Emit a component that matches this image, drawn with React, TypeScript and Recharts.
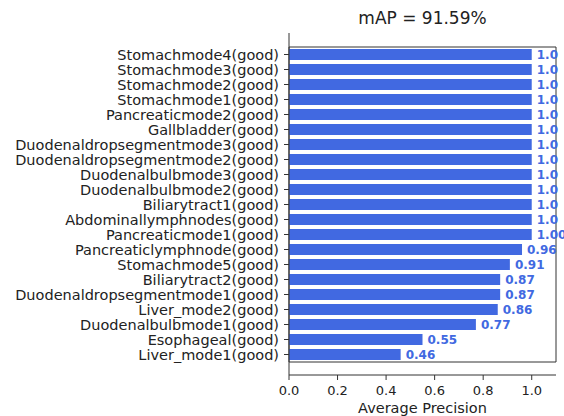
import { Bar, BarChart, LabelList, XAxis, YAxis, Label, ReferenceArea } from "recharts";

const BAR_COLOR = "#4169E1";
const AXIS_COLOR = "#333333";
const FONT = "'DejaVu Sans', sans-serif";

const categories = [
  "Stomachmode4(good)",
  "Stomachmode3(good)",
  "Stomachmode2(good)",
  "Stomachmode1(good)",
  "Pancreaticmode2(good)",
  "Gallbladder(good)",
  "Duodenaldropsegmentmode3(good)",
  "Duodenaldropsegmentmode2(good)",
  "Duodenalbulbmode3(good)",
  "Duodenalbulbmode2(good)",
  "Biliarytract1(good)",
  "Abdominallymphnodes(good)",
  "Pancreaticmode1(good)",
  "Pancreaticlymphnode(good)",
  "Stomachmode5(good)",
  "Biliarytract2(good)",
  "Duodenaldropsegmentmode1(good)",
  "Liver_mode2(good)",
  "Duodenalbulbmode1(good)",
  "Esophageal(good)",
  "Liver_mode1(good)",
];

const precision = [
  1.0, 1.0, 1.0, 1.0, 1.0, 1.0, 1.0, 1.0, 1.0, 1.0, 1.0, 1.0, 1.0, 0.96, 0.91,
  0.87, 0.87, 0.86, 0.77, 0.55, 0.46,
];

const valueLabels = [
  "1.0", "1.0", "1.0", "1.0", "1.0", "1.0", "1.0", "1.0", "1.0", "1.0", "1.0",
  "1.0", "1.00", "0.96", "0.91", "0.87", "0.87", "0.86", "0.77", "0.55", "0.46",
];

const xTicks = [0, 0.2, 0.4, 0.6, 0.8, 1.0];

const data = categories.map((name, i) => ({
  name,
  ap: precision[i],
  label: valueLabels[i],
}));

export default function App() {
  return (
    <div style={{ position: "absolute", left: 0, top: 0, width: 564, height: 416, fontFamily: FONT }}>
      <div
        style={{
          position: "absolute",
          left: 289,
          width: 267,
          top: 8,
          textAlign: "center",
          fontSize: 17,
          lineHeight: "20px",
          color: "#222",
        }}
      >
        mAP = 91.59%
      </div>
      <BarChart
        width={564}
        height={416}
        data={data}
        layout="vertical"
        margin={{ top: 33, right: 8, left: 0, bottom: 2 }}
        barCategoryGap={0}
        style={{ overflow: "visible" }}
      >
        <XAxis
          type="number"
          domain={[0, 1.1]}
          ticks={xTicks}
          tickFormatter={(v: number) => v.toFixed(1)}
          height={39}
          tickSize={5}
          tickMargin={6}
          tick={{ fill: "#222", fontSize: 13, fontFamily: FONT }}
          axisLine={{ stroke: AXIS_COLOR }}
          tickLine={{ stroke: AXIS_COLOR }}
        >
          <Label
            value="Average Precision"
            position="insideBottom"
            offset={1}
            style={{ fill: "#222", fontSize: 14.5, fontFamily: FONT }}
          />
        </XAxis>
        <YAxis
          type="category"
          dataKey="name"
          width={289}
          interval={0}
          padding={{ top: 14, bottom: 13 }}
          tickSize={5}
          tickMargin={5}
          tick={{ fill: "#222", fontSize: 14.5, fontFamily: FONT }}
          axisLine={{ stroke: AXIS_COLOR }}
          tickLine={{ stroke: AXIS_COLOR }}
        />
        <ReferenceArea
          x1={0}
          x2={1.1}
          fill="none"
          fillOpacity={0}
          stroke={AXIS_COLOR}
          strokeWidth={1}
          ifOverflow="visible"
        />
        <Bar dataKey="ap" fill={BAR_COLOR} barSize={11} isAnimationActive={false}>
          <LabelList
            dataKey="label"
            position="right"
            offset={5}
            style={{ fill: BAR_COLOR, fontSize: 12, fontWeight: "bold", fontFamily: FONT }}
          />
        </Bar>
      </BarChart>
    </div>
  );
}
